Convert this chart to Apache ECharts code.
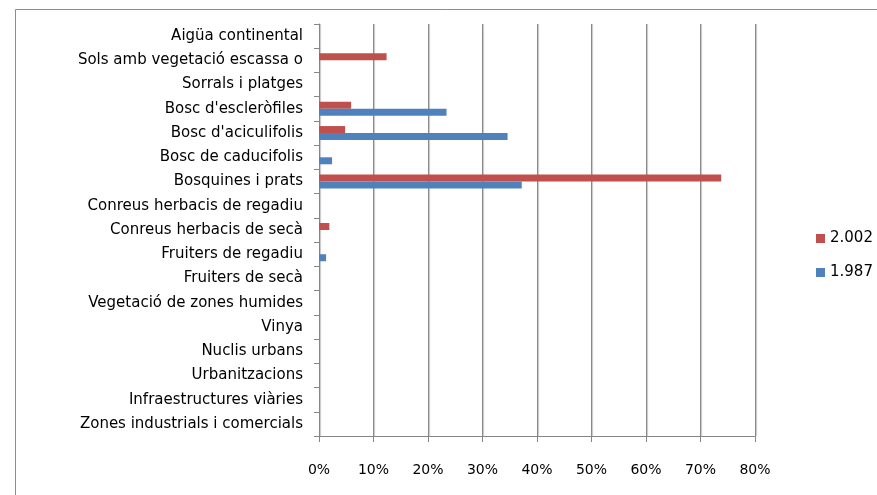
<!DOCTYPE html>
<html>
<head>
<meta charset="utf-8">
<script src="https://cdn.jsdelivr.net/npm/echarts@6/dist/echarts.min.js"></script>
<style>
  html, body { margin: 0; padding: 0; background: #fff; }
  #myChart { width: 877px; height: 495px; }
</style>
</head>
<body>
<div id="myChart"></div>
<script>
// categories from bottom to top
const categories = [
  "Zones industrials i comercials",
  "Infraestructures viàries",
  "Urbanitzacions",
  "Nuclis urbans",
  "Vinya",
  "Vegetació de zones humides",
  "Fruiters de secà",
  "Fruiters de regadiu",
  "Conreus herbacis de secà",
  "Conreus herbacis de regadiu",
  "Bosquines i prats",
  "Bosc de caducifolis",
  "Bosc d'aciculifolis",
  "Bosc d'escleròfiles",
  "Sorrals i platges",
  "Sols amb vegetació escassa o",
  "Aigüa continental"
];
// percentages
const values1987 = [0, 0, 0, 0, 0, 0, 0, 1.3, 0, 0, 37.2, 2.4, 34.6, 23.4, 0, 0, 0];
const values2002 = [0, 0, 0, 0, 0, 0, 0, 0, 1.9, 0, 73.8, 0, 4.8, 5.9, 0, 12.4, 0];
const seriesNames = ["2.002", "1.987"];

const myChart = echarts.init(document.getElementById("myChart"));
const font = "DejaVu Sans";

const options = {
  animation: false,
  color: ["#C0504D", "#4F81BD"],
  textStyle: { fontFamily: font },
  graphic: [
    {
      type: "rect",
      shape: { x: 15.5, y: 9.5, width: 1000, height: 600 },
      style: { fill: "none", stroke: "#8c8c8c", lineWidth: 1 }
    }
  ],
  legend: {
    orient: "vertical",
    left: 811,
    top: 226,
    itemWidth: 9,
    itemHeight: 9,
    itemGap: 19,
    icon: "rect",
    data: seriesNames,
    textStyle: { fontFamily: font, fontSize: 15, color: "#000" }
  },
  grid: {
    left: 319,
    right: 122,
    top: 24,
    bottom: 59
  },
  xAxis: {
    type: "value",
    min: 0,
    max: 80,
    interval: 10,
    axisLine: { show: true, lineStyle: { color: "#868686" } },
    axisTick: { show: true, length: 6, lineStyle: { color: "#868686" } },
    axisLabel: {
      margin: 27,
      fontSize: 14,
      color: "#000",
      fontFamily: font,
      formatter: function (v) {
        return v + "%";
      }
    },
    splitLine: {
      show: true,
      lineStyle: {
        color: "#8a8a8a",
        shadowColor: "rgba(0,0,0,0.25)",
        shadowOffsetX: 1,
        shadowBlur: 1
      }
    }
  },
  yAxis: {
    type: "category",
    data: categories,
    axisLine: { show: true, lineStyle: { color: "#868686" } },
    axisTick: { show: true, length: 5, lineStyle: { color: "#868686" } },
    axisLabel: { margin: 16, fontSize: 15, color: "#000", fontFamily: font }
  },
  series: [
    {
      name: seriesNames[0],
      type: "bar",
      data: values2002,
      barWidth: 7,
      barGap: "0%"
    },
    {
      name: seriesNames[1],
      type: "bar",
      data: values1987,
      barWidth: 7,
      barGap: "0%"
    }
  ]
};

myChart.setOption(options);
</script>
</body>
</html>
